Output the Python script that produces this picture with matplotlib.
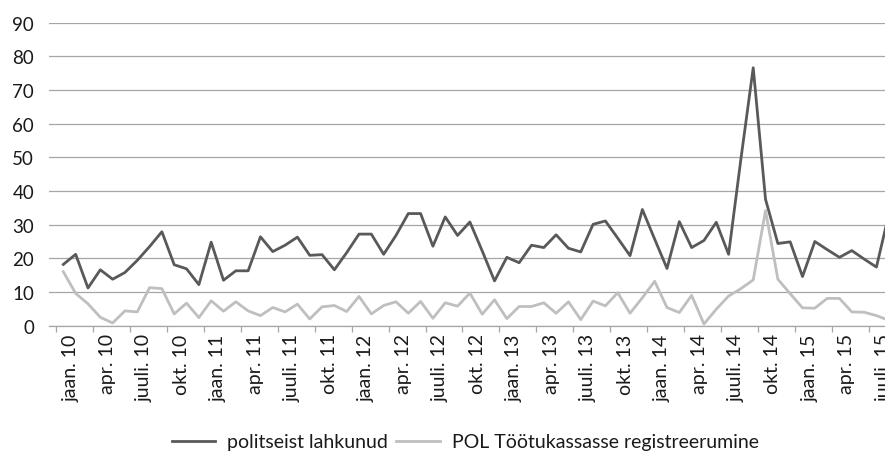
import numpy as np
import matplotlib
matplotlib.use("Agg")
import matplotlib.pyplot as plt

# monthly values, jaan. 2010 .. aug. 2015
left_police = [18.2, 21.2, 11.2, 16.6, 13.8, 15.8, 19.4, 23.5, 27.9, 18.1, 16.9, 12.2,
               24.8, 13.5, 16.3, 16.3, 26.4, 22.0, 23.9, 26.3, 20.9, 21.1, 16.6, 21.7,
               27.2, 27.2, 21.2, 26.8, 33.3, 33.3, 23.6, 32.3, 26.8, 30.8, 22.2, 13.3,
               20.3, 18.7, 23.9, 23.2, 27.0, 23.0, 21.9, 30.1, 31.1, 26.0, 20.8, 34.5,
               25.7, 17.0, 30.9, 23.2, 25.3, 30.7, 21.2, 49.5, 76.6, 37.5, 24.4, 24.9,
               14.6, 25.0, 22.6, 20.3, 22.3, 19.8, 17.4, 33.0]
registered = [16.0, 9.6, 6.5, 2.5, 0.8, 4.4, 4.1, 11.3, 11.0, 3.5, 6.7, 2.4,
              7.4, 4.3, 7.1, 4.4, 3.0, 5.4, 4.1, 6.4, 2.0, 5.6, 6.0, 4.2,
              8.7, 3.5, 6.0, 7.1, 3.7, 7.2, 2.2, 6.8, 5.8, 9.7, 3.4, 7.7,
              2.1, 5.7, 5.7, 6.8, 3.7, 7.1, 1.8, 7.3, 5.9, 9.8, 3.7, 8.3,
              13.2, 5.4, 3.9, 9.0, 0.5, 4.9, 8.8, 11.0, 13.6, 34.2, 13.8, 9.5,
              5.3, 5.2, 8.1, 8.1, 4.1, 4.0, 3.0, 1.6]

months = ["jaan.", "apr.", "juuli.", "okt."]
years = ["10", "11", "12", "13", "14", "15"]
tick_labels = [m + " " + y for y in years for m in months][:23]

series_names = ["politseist lahkunud", "POL Töötukassasse registreerumine"]

plt.rcParams['font.family'] = ['Lato', 'DejaVu Sans']

W, H = 885, 452
fig = plt.figure(figsize=(W / 100, H / 100), dpi=100)
ax = fig.add_axes([49.3 / W, (H - 326.7) / H, (894.9 - 49.3) / W, (326.7 - 23.6) / H])

x = np.arange(len(left_police))
grid_c = "#a6a6a6"
text_c = "#1a1a1a"

ax.plot(x, left_police, color="#595959", lw=2.0, label=series_names[0], zorder=3)
ax.plot(x, registered, color="#bfbfbf", lw=2.0, label=series_names[1], zorder=3)

ax.set_yticks(np.arange(0, 100, 10))
ax.yaxis.grid(True, color=grid_c, lw=0.9)
ax.set_axisbelow(True)
for s in ["top", "right", "left"]:
    ax.spines[s].set_visible(False)
ax.spines["bottom"].set_color(grid_c)
ax.spines["bottom"].set_linewidth(0.9)
ax.tick_params(axis="y", length=0, pad=11, labelsize=13.5, labelcolor=text_c)

lab_pos = np.arange(0, 67, 3)
ax.set_xticks(lab_pos + 0.6)
ax.set_xticklabels(tick_labels, rotation=90, ha="center", va="top")
ax.tick_params(axis="x", which="major", length=0, pad=5.5, labelsize=14, labelcolor=text_c)
ax.set_xticks(np.arange(0, 67, 3) - 0.6, minor=True)
ax.tick_params(axis="x", which="minor", length=4.5, width=0.9, color=grid_c, direction="out")

ax.set_xlim(-1.14, 67.5)
ax.set_ylim(0, 90)

fig.legend(loc="center left", bbox_to_anchor=(171.7 / W, 1 - 443 / H), ncol=2, frameon=False,
           fontsize=14, handlelength=2.25, handletextpad=0.6, columnspacing=0.43,
           borderpad=0, borderaxespad=0, labelcolor=text_c)

fig.savefig("out.png", dpi=100)
